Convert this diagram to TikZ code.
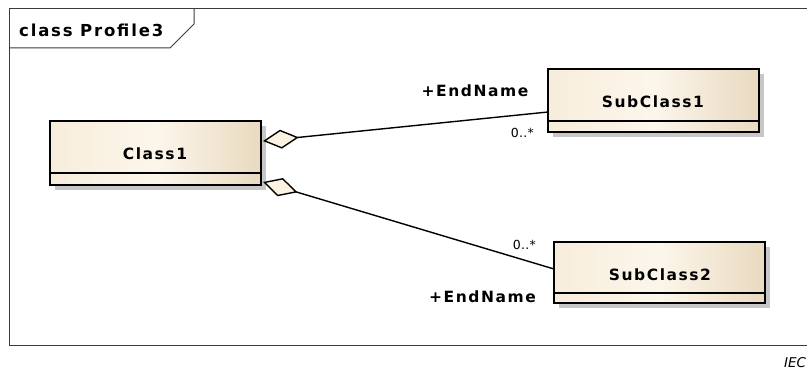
\documentclass[tikz,border=0pt]{standalone}
\usepackage{fontspec}
\setmainfont{DejaVu Sans}
\newfontfamily\umlbold{DejaVu Sans Bold}[LetterSpace=10]
\newfontfamily\umltitle{DejaVu Sans Bold}[LetterSpace=11]
\newfontfamily\umlreg{DejaVu Sans}[LetterSpace=2]
\usetikzlibrary{arrows.meta,shadows}

\definecolor{creamL}{RGB}{247,237,219}
\definecolor{creamM}{RGB}{252,246,235}
\definecolor{creamR}{RGB}{233,218,192}
\definecolor{diafill}{RGB}{251,242,226}
\definecolor{framecol}{RGB}{60,60,60}

\tikzset{
  umlclass/.style={draw=black, line width=1.4pt, inner sep=0pt, outer sep=0pt,
    shading=axis, left color=creamL, right color=creamR, middle color=creamM,
    shading angle=90,
    drop shadow={shadow xshift=5pt, shadow yshift=-5pt, opacity=1, fill=black!22}},
  classname/.style={font=\umlbold\fontsize{15.5}{16}\selectfont, anchor=base, inner sep=0pt},
  rolename/.style={font=\umlbold\fontsize{15.5}{16}\selectfont, anchor=base, inner sep=0pt},
  multip/.style={font=\umlreg\fontsize{12.5}{13}\selectfont, anchor=base east, inner sep=0pt},
  aggregation/.style={line width=1.4pt,
    {Diamond[length=36pt, width=19pt, fill=diafill, line width=1.4pt]}-},
  framepen/.style={draw=framecol, line width=1pt}
}

\begin{document}
\begin{tikzpicture}[x=1pt, y=-1pt]
\useasboundingbox (0,0) rectangle (807,369);

% diagram frame with its name tab
\draw[framepen] (807,9) -- (9,9) -- (9,345) -- (807,345);
\draw[framepen] (9,48) -- (170,48) -- (194,24) -- (194,9);
\node[font=\umltitle\fontsize{16.5}{17}\selectfont, anchor=base west, inner sep=0pt]
  (title) at (19,37) {class Profile3};

% classes
\node[umlclass, minimum width=211pt, minimum height=64pt] (c1) at (155.5,153) {};
\node[umlclass, minimum width=211pt, minimum height=63pt] (s1) at (653.5,100.5) {};
\node[umlclass, minimum width=211pt, minimum height=61pt] (s2) at (659.5,272.5) {};

% attribute compartments
\draw[line width=1.4pt] ([yshift=12pt]c1.south west) -- ([yshift=12pt]c1.south east);
\draw[line width=1.4pt] ([yshift=11pt]s1.south west) -- ([yshift=11pt]s1.south east);
\draw[line width=1.4pt] ([yshift=10pt]s2.south west) -- ([yshift=10pt]s2.south east);

% class names
\node[classname] (n1) at (155,160) {Class1};
\node[classname] (n2) at (653,107) {SubClass1};
\node[classname] (n3) at (660,280) {SubClass2};

% aggregations
\draw[aggregation] ([shift={(2pt,12pt)}]c1.east) -- ([yshift=-11.5pt]s1.west);
\draw[aggregation] ([shift={(2pt,-29pt)}]c1.east) -- ([yshift=3.5pt]s2.west);

% association end labels
\node[rolename] (r1) at (475,97) {+EndName};
\node[multip] (m1) at (534,138) {0..*};
\node[multip] (m2) at (536,249) {0..*};
\node[rolename] (r2) at (482.5,302) {+EndName};

% caption
\node[font=\fontsize{13.5}{14}\selectfont\itshape, anchor=base west, inner sep=0pt]
  (iec) at (784,367) {IEC};
\end{tikzpicture}
\end{document}
